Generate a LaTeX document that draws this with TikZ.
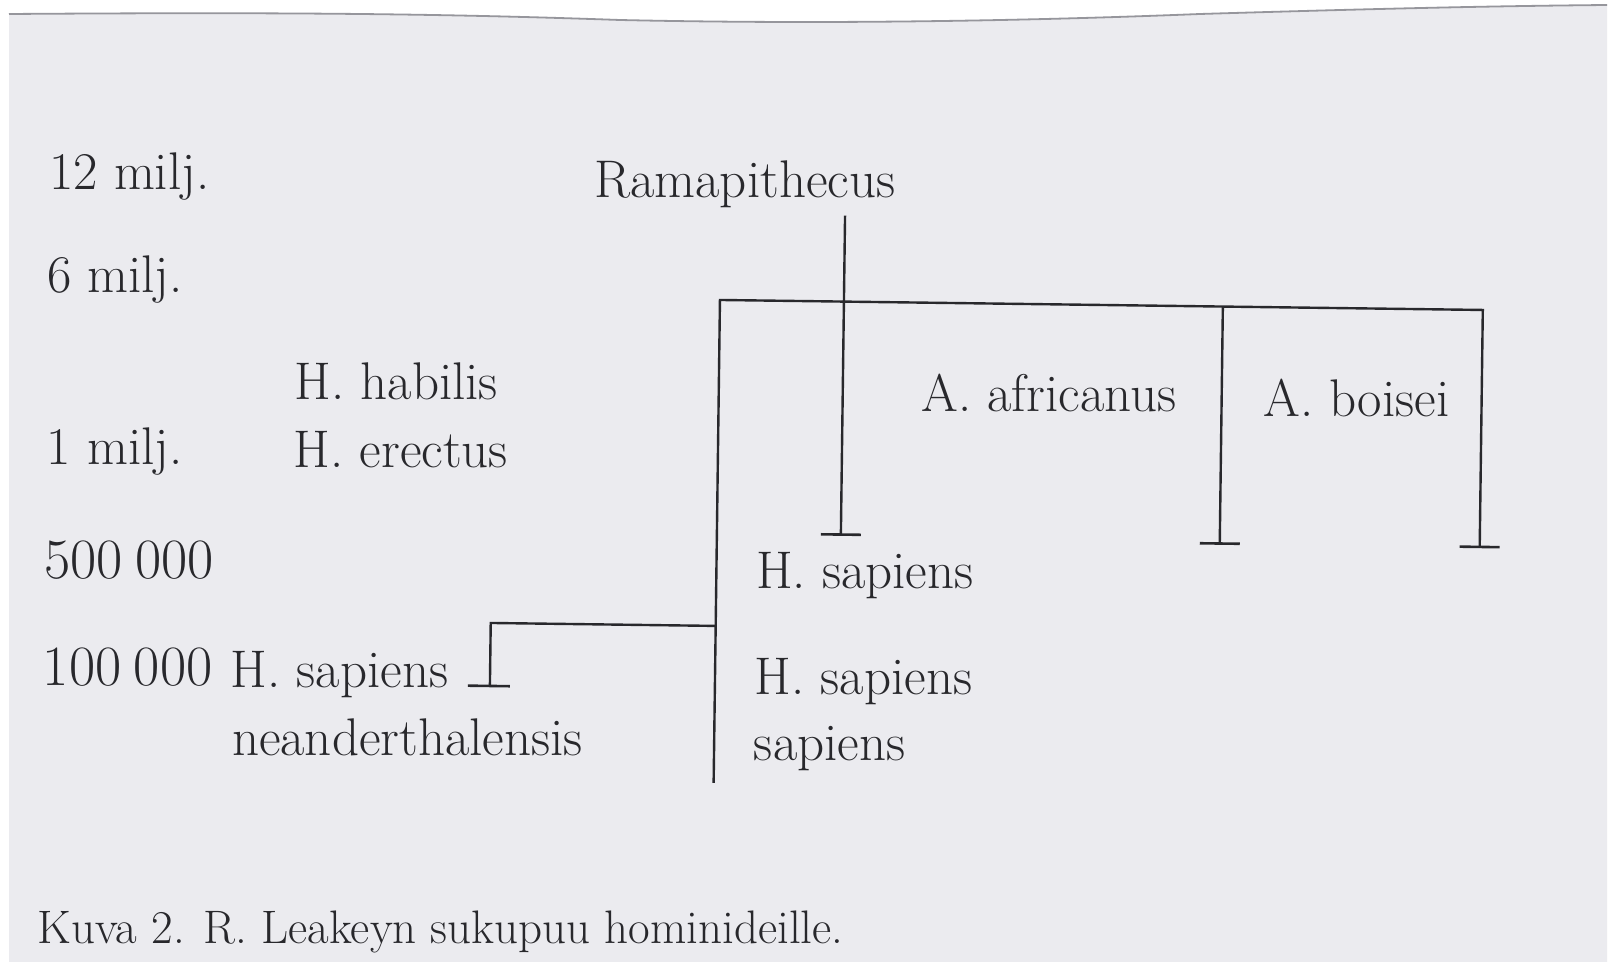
\documentclass[tikz,border=0pt]{standalone}
\definecolor{paper}{RGB}{235,235,239}
\definecolor{edge}{RGB}{150,150,156}
\definecolor{ink}{RGB}{40,40,44}
\tikzset{
  lbl/.style={anchor=base west, inner sep=0pt, outer sep=0pt, text=ink, font=\fontsize{26.5}{31}\selectfont},
  numlbl/.style={lbl, font=\fontsize{28.5}{33}\selectfont},
  captxt/.style={anchor=base west, inner sep=0pt, outer sep=0pt, text=ink, font=\fontsize{23.5}{28}\selectfont},
  br/.style={draw=ink, line width=1.2pt, line join=miter},
  tk/.style={draw=ink, line width=1.3pt}
}
\begin{document}
\begin{tikzpicture}[x=0.5pt, y=-0.5pt]
\useasboundingbox (0,0) rectangle (1612,962);
\fill[white] (0,0) rectangle (1612,962);
\fill[paper] (9,14) .. controls (300,12) and (450,14) .. (620,20) .. controls (800,24) and (1000,22) .. (1200,14) .. controls (1400,8) and (1500,6) .. (1607,5) -- (1607,962) -- (9,962) -- cycle;
\draw[edge, line width=0.9pt] (9,14) .. controls (300,12) and (450,14) .. (620,20) .. controls (800,24) and (1000,22) .. (1200,14) .. controls (1400,8) and (1500,6) .. (1607,5);
\begin{scope}[rotate around={-0.75:(720,300)}]
% time axis
\node[lbl] (t12) at (48,198) {12 milj.};
\node[lbl] (t6) at (47,301) {6 milj.};
\node[lbl] (t1) at (49,473) {1 milj.};
\node[numlbl] (t500) at (48,587) {500\hspace{0.22em}000};
\node[numlbl] (t100) at (48,694) {100\hspace{0.22em}000};
% taxa
\node[lbl] (rama) at (593,199) {Ramapithecus};
\node[lbl] (habilis) at (296,405) {H. habilis};
\node[lbl] (erectus) at (296,473) {H. erectus};
\node[lbl] (afr) at (923,409) {A. africanus};
\node[lbl] (boi) at (1265,409) {A. boisei};
\node[lbl] (sap1) at (760,588) {H. sapiens};
\node[lbl] (sap2) at (760,694) {H. sapiens};
\node[lbl] (sap3) at (760,760) {sapiens};
\node[lbl] (nea1) at (236,694) {H. sapiens};
\node[lbl] (nea2) at (238,762) {neanderthalensis};
\node[captxt] (caption) at (46,952) {Kuva 2. R. Leakeyn sukupuu hominideille.};
% junctions
\coordinate (ramaTop) at (844,214);
\coordinate (ramaEnd) at (844,533);
\coordinate (barL) at (720,300);
\coordinate (barA) at (1223,300);
\coordinate (barR) at (1483,300);
\coordinate (afrEnd) at (1223,537);
\coordinate (boiEnd) at (1483,537);
\coordinate (mainEnd) at (720,783);
\coordinate (neaJ) at (720,626);
\coordinate (neaC) at (495,626);
\coordinate (neaEnd) at (495,689);
% branches
\draw[br] (ramaTop) -- (ramaEnd);
\draw[tk] ([xshift=-10]ramaEnd) -- ([xshift=10]ramaEnd);
\draw[br] (mainEnd) -- (barL) -- (barR) -- (boiEnd);
\draw[tk] ([xshift=-10]boiEnd) -- ([xshift=10]boiEnd);
\draw[br] (barA) -- (afrEnd);
\draw[tk] ([xshift=-10]afrEnd) -- ([xshift=10]afrEnd);
\draw[br] (neaJ) -- (neaC) -- (neaEnd);
\draw[tk] ([xshift=-11]neaEnd) -- ([xshift=10]neaEnd);
\end{scope}
\end{tikzpicture}
\end{document}
